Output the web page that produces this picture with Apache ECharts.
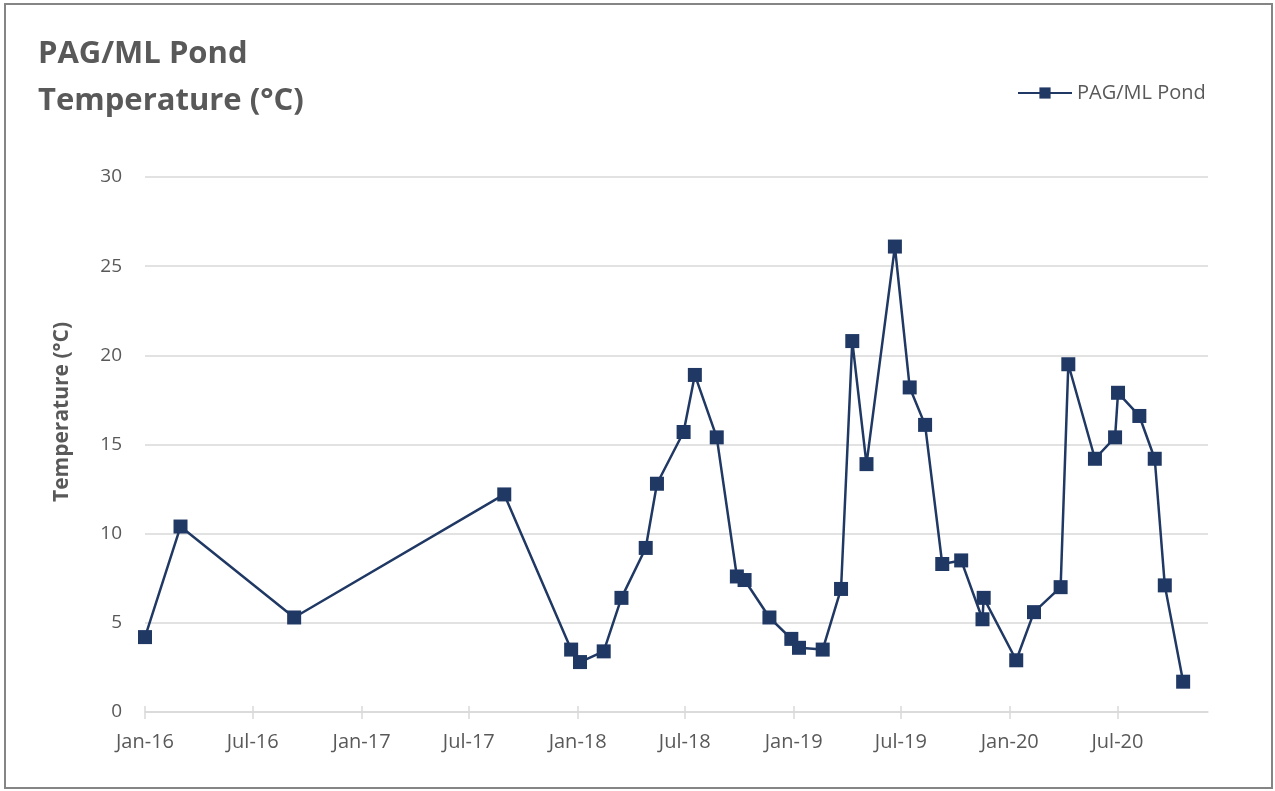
<!DOCTYPE html>
<html>
<head>
<meta charset="utf-8">
<script src="https://cdn.jsdelivr.net/npm/echarts@6/dist/echarts.min.js"></script>
<style>
html,body{margin:0;padding:0;background:#fff;}
#chart{width:1275px;height:791px;}
</style>
</head>
<body>
<div id="chart"></div>
<script>
// Sample dates (YYYY-MM-DD) and temperatures (°C)
var sampleDates = [
  '2016-01-01','2016-03-01','2016-09-09','2017-08-30','2017-12-21',
  '2018-01-05','2018-02-14','2018-03-16','2018-04-26','2018-05-15',
  '2018-06-29','2018-07-18','2018-08-24','2018-09-27','2018-10-10',
  '2018-11-21','2018-12-28','2019-01-10','2019-02-19','2019-03-22',
  '2019-04-10','2019-05-04','2019-06-21','2019-07-16','2019-08-11',
  '2019-09-09','2019-10-11','2019-11-16','2019-11-18','2020-01-12',
  '2020-02-11','2020-03-27','2020-04-09','2020-05-24','2020-06-27',
  '2020-07-02','2020-08-07','2020-09-02','2020-09-19','2020-10-20'
];
var temperatures = [
  4.2, 10.4, 5.3, 12.2, 3.5,
  2.8, 3.4, 6.4, 9.2, 12.8,
  15.7, 18.9, 15.4, 7.6, 7.4,
  5.3, 4.1, 3.6, 3.5, 6.9,
  20.8, 13.9, 26.1, 18.2, 16.1,
  8.3, 8.5, 5.2, 6.4, 2.9,
  5.6, 7.0, 19.5, 14.2, 15.4,
  17.9, 16.6, 14.2, 7.1, 1.7
];
var tickDates = ['2016-01-01','2016-07-01','2017-01-01','2017-07-01','2018-01-01','2018-07-01','2019-01-01','2019-07-01','2020-01-01','2020-07-01'];
var tickLabels = ['Jan-16','Jul-16','Jan-17','Jul-17','Jan-18','Jul-18','Jan-19','Jul-19','Jan-20','Jul-20'];
var axisStart = '2016-01-01';
var axisEnd = '2020-12-01';
var seriesName = 'PAG/ML Pond';

function ts(s){ var p = s.split('-'); return Date.UTC(+p[0], +p[1]-1, +p[2]); }
var tickTs = tickDates.map(ts);
var labelMap = {};
tickTs.forEach(function(t,i){ labelMap[t] = tickLabels[i]; });
var data = sampleDates.map(function(d,i){ return [ts(d), temperatures[i]]; });

var FONT = '"Open Sans", "Noto Sans", sans-serif';
var chart = echarts.init(document.getElementById('chart'));
chart.setOption({
  animation: false,
  backgroundColor: '#fff',
  textStyle: { fontFamily: FONT },
  title: {
    text: 'PAG/ML Pond\nTemperature (°C)',
    left: 33, top: 26,
    textStyle: { fontFamily: FONT, fontSize: 31, fontWeight: 'bold', color: '#595959', lineHeight: 47 }
  },
  legend: {
    left: 1012, top: 78,
    itemWidth: 54, itemHeight: 14, itemGap: 5,
    textStyle: { fontFamily: FONT, fontSize: 20, color: '#595959' },
    data: [seriesName]
  },
  graphic: [
    { type: 'rect', shape: { x: 5, y: 4, width: 1267, height: 784 }, style: { fill: 'none', stroke: '#858585', lineWidth: 2 }, silent: true },
    { type: 'text', x: 62, y: 412, rotation: Math.PI/2,
      style: { text: 'Temperature (°C)', font: 'bold 21px ' + FONT, fill: '#595959', align: 'center', verticalAlign: 'middle' } }
  ],
  grid: { left: 145, right: 67, top: 177, bottom: 79 },
  xAxis: [{
    type: 'value',
    min: ts(axisStart), max: ts(axisEnd),
    axisLine: { show: true, lineStyle: { color: '#d9d9d9', width: 1.5 } },
    axisTick: { show: true, length: 7, customValues: tickTs, lineStyle: { color: '#d9d9d9', width: 1.5 } },
    axisLabel: { customValues: tickTs, formatter: function(v){ return labelMap[v] || ''; }, color: '#595959', fontSize: 20, margin: 20, fontFamily: FONT },
    splitLine: { show: false }
  },{
    type: 'value',
    min: ts(axisStart), max: ts(axisEnd), position: 'bottom',
    axisLine: { show: false },
    axisTick: { show: true, inside: true, length: 6, customValues: tickTs, lineStyle: { color: '#d9d9d9', width: 1.5 } },
    axisLabel: { show: false },
    splitLine: { show: false }
  }],
  yAxis: {
    type: 'value', min: 0, max: 30, interval: 5,
    axisLine: { show: false }, axisTick: { show: false },
    axisLabel: { color: '#595959', fontSize: 19, margin: 23, fontFamily: FONT },
    splitLine: { lineStyle: { color: '#d9d9d9', width: 1.5 } }
  },
  series: [{
    name: seriesName, type: 'line', xAxisIndex: 0,
    data: data,
    symbol: 'rect', symbolSize: 14, showAllSymbol: true,
    itemStyle: { color: '#203864' },
    lineStyle: { color: '#203864', width: 2.5 }
  }]
});
</script>
</body>
</html>
